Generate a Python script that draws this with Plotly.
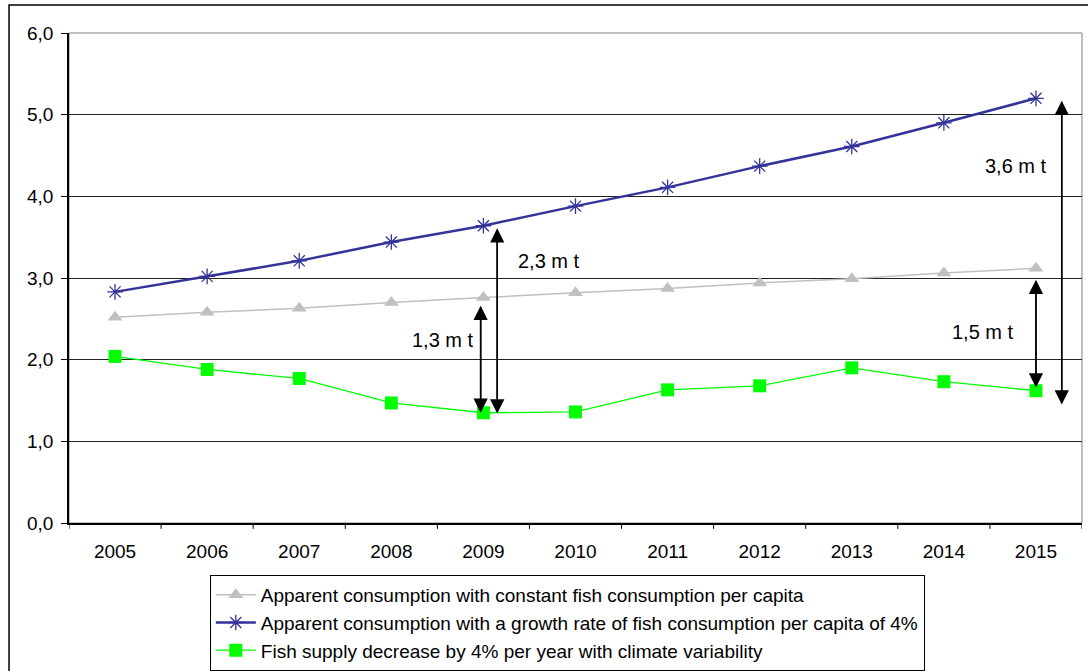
import plotly.graph_objects as go

years = ["2005", "2006", "2007", "2008", "2009", "2010", "2011", "2012", "2013", "2014", "2015"]
constant = [2.52, 2.58, 2.63, 2.70, 2.76, 2.82, 2.87, 2.94, 2.99, 3.06, 3.12]
growth = [2.83, 3.02, 3.21, 3.44, 3.64, 3.88, 4.11, 4.37, 4.61, 4.90, 5.20]
supply = [2.04, 1.88, 1.77, 1.47, 1.35, 1.36, 1.63, 1.68, 1.90, 1.73, 1.62]
names = [
    "Apparent consumption with constant fish consumption per capita",
    "Apparent consumption with a growth rate of fish consumption per capita of 4%",
    "Fish supply decrease by 4% per year with climate variability",
]
gap_labels = ["1,3 m t", "2,3 m t", "1,5 m t", "3,6 m t"]

FONT = "Liberation Sans, Arial, sans-serif"
xi = list(range(len(years)))

fig = go.Figure()
fig.add_trace(go.Scatter(x=xi, y=constant, name=names[0], mode="lines+markers",
                         line=dict(color="#c0c0c0", width=1.5),
                         marker=dict(symbol="triangle-up", size=13, color="#c0c0c0")))
fig.add_trace(go.Scatter(x=xi, y=growth, name=names[1], mode="lines+markers",
                         line=dict(color="#333399", width=2.5),
                         marker=dict(symbol="asterisk-open", size=13,
                                     line=dict(color="#000080", width=1.3))))
fig.add_trace(go.Scatter(x=xi, y=supply, name=names[2], mode="lines+markers",
                         line=dict(color="#00ff00", width=1.3),
                         marker=dict(symbol="square", size=13, color="#00ff00")))

annotations = []

def double_arrow(x, y_top, y_bot):
    for (ya, yb) in ((y_top, y_bot), (y_bot, y_top)):
        annotations.append(dict(x=x, y=ya, ax=x, ay=yb, xref="x", yref="y",
                                axref="x", ayref="y", showarrow=True, text="",
                                arrowhead=2, arrowsize=1.9, arrowwidth=1.5,
                                arrowcolor="black"))

i09 = years.index("2009")
i15 = years.index("2015")
double_arrow(i09 - 0.03, constant[i09] - 0.1, supply[i09])
double_arrow(i09 + 0.15, growth[i09] - 0.03, supply[i09] - 0.01)
double_arrow(i15, constant[i15] - 0.14, supply[i15] + 0.04)
double_arrow(i15 + 0.28, growth[i15] - 0.03, supply[i15] - 0.17)

label_pos = [(i09 - 0.44, 2.24), (i09 + 0.71, 3.21), (i15 - 0.58, 2.34), (i15 - 0.22, 4.37)]
for txt, (lx, ly) in zip(gap_labels, label_pos):
    annotations.append(dict(x=lx, y=ly, xref="x", yref="y", text=txt, showarrow=False,
                            font=dict(family=FONT, size=20, color="black")))

shapes = [
    # outer chart frame
    dict(type="rect", xref="paper", yref="paper", x0=-0.0592, x1=1.05, y0=-0.4, y1=1.0571,
         line=dict(color="black", width=1.5), layer="below"),
    # plot area border (grey right/top)
    dict(type="rect", xref="paper", yref="paper", x0=0, x1=1, y0=0, y1=1,
         line=dict(color="#808080", width=1), layer="below"),
]
# boundary ticks on category axis
for b in range(len(years) + 1):
    shapes.append(dict(type="line", xref="x", yref="paper", x0=b - 0.5, x1=b - 0.5,
                       y0=0, y1=-0.012, line=dict(color="black", width=1)))

fig.update_layout(
    width=1088, height=671,
    margin=dict(l=69, r=6, t=33, b=148, autoexpand=False),
    paper_bgcolor="white", plot_bgcolor="white",
    separators=",.",
    font=dict(family=FONT, size=19, color="black"),
    showlegend=True,
    legend=dict(x=0.139, y=-0.106, xanchor="left", yanchor="top",
                bordercolor="black", borderwidth=1, bgcolor="white",
                font=dict(family=FONT, size=19), tracegroupgap=0,
                itemwidth=40),
    annotations=annotations,
    shapes=shapes,
)
fig.update_xaxes(range=[-0.5, 10.5], tickmode="array", tickvals=xi, ticktext=years,
                 showgrid=False, showline=True, linecolor="black", linewidth=1.5,
                 ticks="", zeroline=False, tickfont=dict(size=19), ticklabelstandoff=10)
fig.update_yaxes(range=[0, 6], dtick=1, tickformat=".1f", showgrid=True,
                 gridcolor="#222222", gridwidth=1, showline=True, linecolor="black",
                 linewidth=1.5, ticks="outside", ticklen=6, tickcolor="black",
                 zeroline=False, tickfont=dict(size=19), ticklabelstandoff=4)

fig.write_html("out.html", config={"displayModeBar": False},
               post_script="document.body.style.margin='0';")
